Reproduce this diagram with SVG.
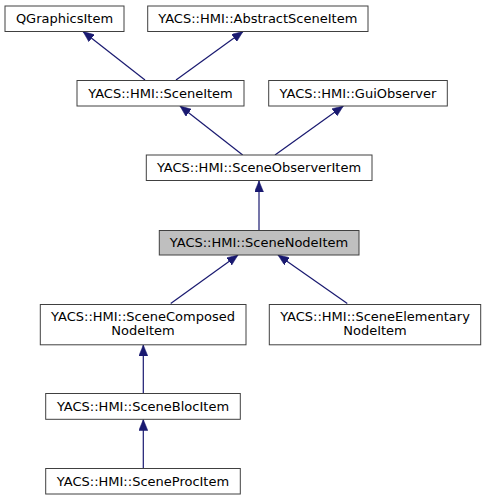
<svg xmlns="http://www.w3.org/2000/svg" width="486" height="500" viewBox="0 0 486 500">
<style>
.n rect{fill:#fff;stroke:#404040;stroke-width:1}
.n text{font-family:"DejaVu Sans",sans-serif;font-size:13px;text-anchor:middle;fill:#000}
.f rect{fill:#bfbfbf}
.e path{fill:none;stroke:#191970;stroke-width:1.2;marker-end:url(#ah)}
</style>
<defs>
<marker id="ah" markerUnits="userSpaceOnUse" markerWidth="12" markerHeight="9" refX="11" refY="4.5" orient="auto">
<path d="M0,0 L11,4.5 L0,9 z" fill="#191970" stroke="#191970" stroke-width="0.5"/>
</marker>
</defs>
<rect width="486" height="500" fill="#fff"/>
<g class="e" id="edges">
<path d="M145,80 L83,31.5"/>
<path d="M176,80 L243,31.5"/>
<path d="M242.7,155 L180,106"/>
<path d="M275,155 L343.3,106"/>
<path d="M259,230 L259,181"/>
<path d="M170.7,303.5 L238,255"/>
<path d="M347.3,303.5 L278,255"/>
<path d="M143.3,393 L143.3,345"/>
<path d="M143.3,468 L143.3,419.5"/>
</g>
<g class="n" id="QGraphicsItem"><rect x="5" y="6" width="119" height="25.5"/><text x="64.5" y="23">QGraphicsItem</text></g>
<g class="n" id="AbstractSceneItem"><rect x="147.7" y="6" width="220.3" height="25.5"/><text x="257.8" y="23">YACS::HMI::AbstractSceneItem</text></g>
<g class="n" id="SceneItem"><rect x="77" y="80.5" width="167" height="25.5"/><text x="160.5" y="97.5">YACS::HMI::SceneItem</text></g>
<g class="n" id="GuiObserver"><rect x="268.7" y="80.5" width="178.6" height="25.5"/><text x="358" y="97.5">YACS::HMI::GuiObserver</text></g>
<g class="n" id="SceneObserverItem"><rect x="146.3" y="155" width="225.7" height="25.5"/><text x="259" y="172">YACS::HMI::SceneObserverItem</text></g>
<g class="n f" id="SceneNodeItem"><rect x="159.3" y="230.5" width="199.7" height="24.5"/><text x="259" y="247">YACS::HMI::SceneNodeItem</text></g>
<g class="n" id="SceneComposedNodeItem"><rect x="40.3" y="304.5" width="205.7" height="40.3"/><text x="143" y="321">YACS::HMI::SceneComposed</text><text x="143" y="334.5">NodeItem</text></g>
<g class="n" id="SceneElementaryNodeItem"><rect x="269.3" y="304.5" width="211.4" height="40.3"/><text x="375" y="321">YACS::HMI::SceneElementary</text><text x="375" y="334.5">NodeItem</text></g>
<g class="n" id="SceneBlocItem"><rect x="45.7" y="393.5" width="194.6" height="25.8"/><text x="143" y="410.5">YACS::HMI::SceneBlocItem</text></g>
<g class="n" id="SceneProcItem"><rect x="45.7" y="468.5" width="194.6" height="25.5"/><text x="143" y="485.5">YACS::HMI::SceneProcItem</text></g>
</svg>
